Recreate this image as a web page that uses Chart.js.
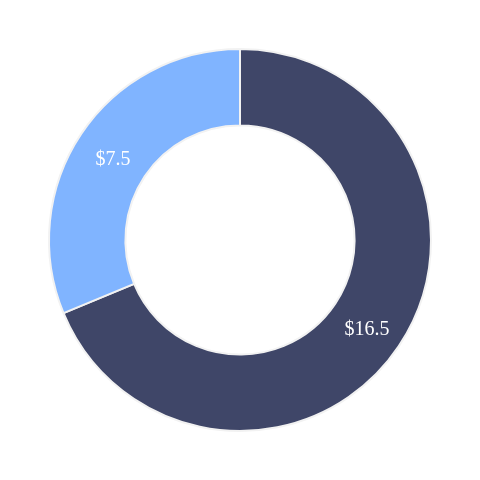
<!DOCTYPE html>
<html>
<head>
<meta charset="utf-8">
<script src="https://cdn.jsdelivr.net/npm/chart.js@4"></script>
<style>
    html, body { margin: 0; padding: 0; background: #ffffff; }
    #wrap { width: 480px; height: 480px; }
</style>
</head>
<body>
<div id="wrap"><canvas id="grafico"></canvas></div>
<script>
var categorias = ["A", "B"]
var valores = [16.5, 7.5]
var colores = ["#3f4668", "#80b4ff"]

// draws "$value" on each slice, centred on the arc
var etiquetasPlugin = {
    id: "etiquetas",
    afterDatasetsDraw: function (chart) {
        var ctx = chart.ctx
        var meta = chart.getDatasetMeta(0)
        ctx.save()
        ctx.font = "20px 'Liberation Serif', 'DejaVu Serif', serif"
        ctx.fillStyle = "#ffffff"
        ctx.textAlign = "center"
        ctx.textBaseline = "alphabetic"
        meta.data.forEach(function (arc, i) {
            var pos = arc.tooltipPosition()
            ctx.fillText("$" + valores[i], pos.x, pos.y + 10)
        })
        ctx.restore()
    }
}

var chart = new Chart("grafico", {
    type: "doughnut",
    data: {
        labels: categorias,
        datasets: [{
            data: valores,
            backgroundColor: colores,
            borderColor: "#f2f2f2",
            borderWidth: 2
        }]
    },
    options: {
        responsive: true,
        maintainAspectRatio: false,
        animation: false,
        cutout: "60%",
        layout: { padding: 48 },
        plugins: {
            legend: { display: false },
            tooltip: { enabled: false }
        }
    },
    plugins: [etiquetasPlugin]
})
</script>
</body>
</html>
